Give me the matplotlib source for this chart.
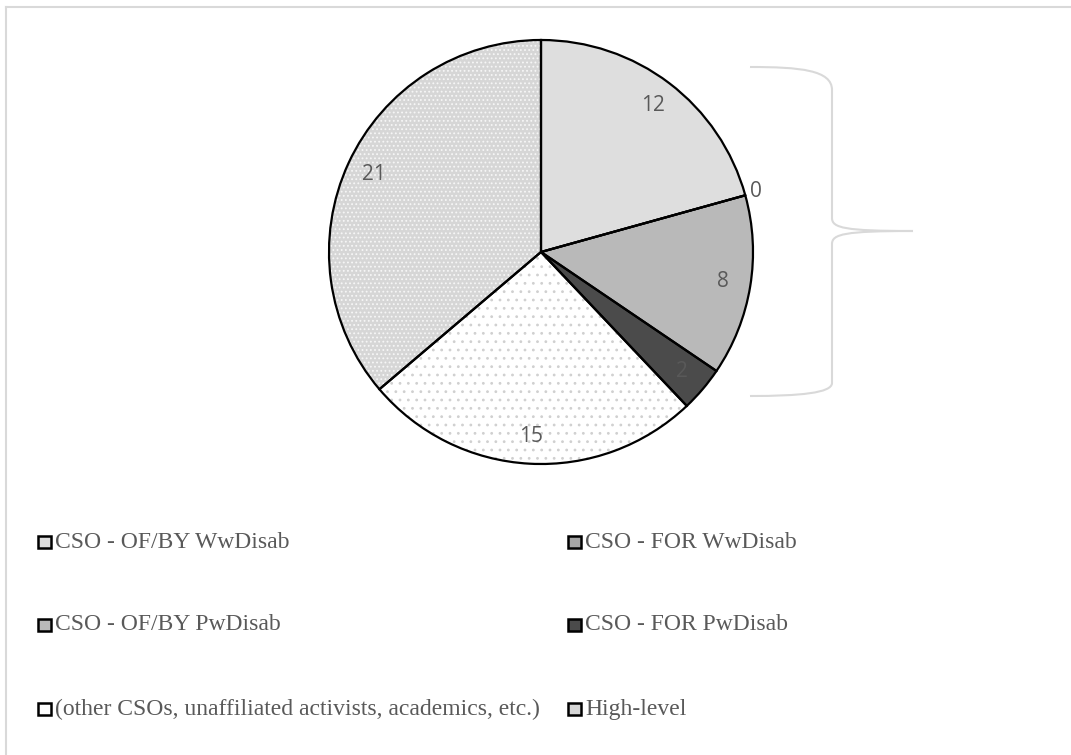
import matplotlib
matplotlib.use("Agg")
import matplotlib.pyplot as plt
import numpy as np
from matplotlib.patches import Rectangle, PathPatch
from matplotlib.path import Path

# ---- data ----
categories = ["CSO - OF/BY WwDisab", "CSO - FOR WwDisab", "CSO - OF/BY PwDisab",
              "CSO - FOR PwDisab", "(other CSOs, unaffiliated activists, academics, etc.)",
              "High-level"]
values = [12, 0, 8, 2, 15, 21]
fill_colors = ["#dedede", "#a6a6a6", "#b9b9b9", "#4b4b4b", "#ffffff", "#d6d6d6"]
hatch_patterns = [None, None, None, None, "..", "...."]
hatch_colors = ["#dedede", "#a6a6a6", "#b9b9b9", "#4b4b4b", "#d0d0d0", "#f6f6f6"]

W, H = 1071, 755
fig = plt.figure(figsize=(W / 100, H / 100), dpi=100)

def fx(px):
    return px / W

def fy(py):
    return 1 - py / H

# chart area border (light gray)
fig.add_artist(plt.Line2D([fx(6), fx(6)], [fy(7), fy(760)], color="#d9d9d9", lw=1.5,
                          transform=fig.transFigure))
fig.add_artist(plt.Line2D([fx(6), fx(1075)], [fy(7), fy(7)], color="#d9d9d9", lw=1.5,
                          transform=fig.transFigure))

# pie axes
cx, cy, r = 541, 252, 212
ax = fig.add_axes([fx(cx - r), fy(cy + r), 2 * r / W, 2 * r / H])

plt.rcParams["hatch.linewidth"] = 0.8

# layer 1: fills with hatches (hatch color from edgecolor)
wedges, _ = ax.pie(values, startangle=90, counterclock=False, radius=1,
                   colors=fill_colors,
                   wedgeprops=dict(linewidth=0))
for w, hp, hc in zip(wedges, hatch_patterns, hatch_colors):
    if hp:
        w.set_hatch(hp)
        w.set_edgecolor(hc)
        w.set_linewidth(0)

# layer 2: outlines + value labels
outline, texts = ax.pie(values, startangle=90, counterclock=False, radius=1,
                        colors=["none"] * len(values),
                        labels=[str(v) for v in values], labeldistance=0.87,
                        wedgeprops=dict(linewidth=1.6, edgecolor="black", fill=False),
                        textprops=dict(color="#595959", fontsize=15, family="Open Sans"))
total = sum(values)
cum = 0
for v, t in zip(values, texts):
    ang = np.deg2rad(90 - 360 * (cum + v / 2) / total)
    t.set_ha("center")
    t.set_va("center")
    if v == 0:
        t.set_position((1.025 * np.cos(ang), 1.025 * np.sin(ang) + 0.01))
        t.set_ha("left")
    cum += v
ax.set_xlim(-1, 1)
ax.set_ylim(-1, 1)
ax.set_aspect("equal")
for p in outline + wedges:
    p.set_clip_on(False)

# brace (light gray)
verts = [
    (750, 67), (800, 67), (832, 70), (832, 90),
    (832, 218),
    (832, 228), (845, 231), (913, 231),
    (845, 231), (832, 234), (832, 244),
    (832, 383),
    (832, 393), (800, 396), (750, 396),
]
codes = [Path.MOVETO, Path.CURVE4, Path.CURVE4, Path.CURVE4,
         Path.LINETO,
         Path.CURVE4, Path.CURVE4, Path.CURVE4,
         Path.CURVE4, Path.CURVE4, Path.CURVE4,
         Path.LINETO,
         Path.CURVE4, Path.CURVE4, Path.CURVE4]
path = Path([(fx(x), fy(y)) for x, y in verts], codes)
fig.add_artist(PathPatch(path, facecolor="none", edgecolor="#d9d9d9", lw=1.5,
                         transform=fig.transFigure))

# legend (manual, row-wise, 2 columns)
col_x = [38, 568]
row_y = [542, 625, 709]
for i, (lab, col) in enumerate(zip(categories, fill_colors)):
    c, rr = i % 2, i // 2
    x0, y0 = col_x[c], row_y[rr]
    fig.add_artist(Rectangle((fx(x0), fy(y0 + 6)), 13 / W, 12 / H,
                             facecolor=col, edgecolor="black", lw=1.8,
                             transform=fig.transFigure))
    fig.text(fx(x0 + 17), fy(y0), lab, ha="left", va="center",
             fontsize=17, family="Liberation Serif", color="#595959")

fig.savefig("out.png", dpi=100, facecolor="white")
